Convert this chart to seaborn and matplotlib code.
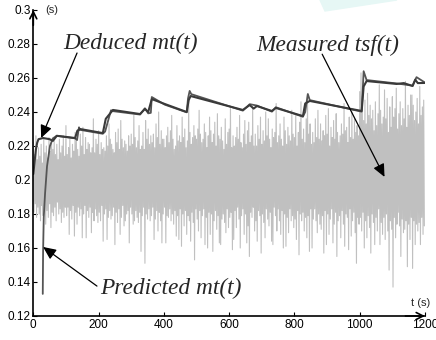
import numpy as np
import matplotlib
matplotlib.use("Agg")
import matplotlib.pyplot as plt
from matplotlib.patches import Polygon
import seaborn as sns

# measured tsf(t), one sample every 2 s, in ms
tsf_step = 2
tsf_ms = [
    222, 181, 215, 186, 226, 178, 212, 184, 219, 180,
    214, 176, 221, 185, 210, 179, 224, 183, 216, 174,
    220, 182, 213, 178, 225, 186, 217, 172, 222, 181,
    218, 179, 223, 184, 215, 176, 221, 187, 212, 180,
    224, 183, 216, 175, 220, 181, 226, 178, 214, 184,
    232, 179, 215, 184, 219, 168, 224, 182, 213, 177,
    221, 185, 217, 167, 228, 181, 223, 174, 218, 184,
    214, 179, 227, 183, 220, 166, 231, 180, 215, 185,
    225, 166, 218, 182, 222, 178, 221, 184, 216, 169,
    219, 181, 236, 176, 216, 183, 224, 179, 221, 175,
    229, 181, 215, 176, 222, 185, 218, 164, 219, 180,
    217, 183, 226, 165, 220, 178, 233, 182, 224, 177,
    221, 179, 218, 184, 216, 162, 228, 181, 222, 175,
    230, 183, 218, 168, 235, 178, 224, 185, 219, 173,
    223, 176, 221, 180, 217, 182, 226, 163, 220, 184,
    227, 180, 221, 174, 238, 176, 225, 182, 219, 178,
    223, 175, 232, 181, 218, 158, 220, 179, 228, 184,
    218, 151, 235, 180, 224, 177, 230, 183, 221, 176,
    226, 179, 222, 184, 227, 165, 219, 177, 233, 182,
    225, 170, 240, 181, 221, 176, 229, 163, 224, 180,
    224, 184, 219, 163, 226, 179, 231, 178, 222, 183,
    229, 176, 238, 180, 224, 174, 218, 182, 220, 167,
    232, 179, 223, 165, 226, 183, 222, 161, 237, 180,
    225, 173, 230, 182, 219, 168, 223, 179, 248, 176,
    228, 164, 221, 181, 225, 175, 232, 153, 226, 183,
    224, 177, 230, 170, 241, 182, 227, 166, 222, 179,
    224, 183, 233, 162, 228, 178, 219, 160, 226, 181,
    237, 168, 229, 180, 222, 158, 227, 176, 234, 182,
    220, 171, 239, 179, 226, 163, 224, 162, 231, 177,
    223, 180, 218, 175, 236, 169, 221, 183, 228, 172,
    230, 178, 242, 181, 219, 159, 226, 165, 220, 182,
    225, 172, 231, 184, 224, 177, 238, 160, 222, 179,
    219, 183, 227, 168, 235, 180, 221, 163, 229, 173,
    234, 155, 222, 181, 226, 178, 243, 184, 220, 170,
    227, 176, 220, 164, 232, 182, 224, 179, 237, 157,
    221, 180, 229, 175, 223, 166, 240, 183, 226, 177,
    236, 173, 224, 181, 219, 164, 230, 162, 225, 184,
    228, 179, 245, 170, 222, 183, 226, 176, 233, 168,
    224, 182, 220, 160, 237, 180, 229, 161, 221, 178,
    231, 169, 226, 183, 223, 176, 241, 179, 227, 172,
    225, 177, 239, 165, 220, 182, 228, 156, 234, 180,
    246, 176, 224, 181, 230, 170, 222, 178, 236, 166,
    250, 179, 227, 158, 233, 183, 221, 160, 228, 177,
    222, 183, 236, 176, 225, 169, 241, 180, 224, 174,
    233, 171, 223, 179, 229, 157, 226, 182, 238, 162,
    227, 180, 242, 168, 220, 177, 231, 183, 225, 163,
    235, 174, 224, 181, 239, 155, 228, 176, 222, 179,
    226, 166, 233, 182, 227, 174, 245, 161, 229, 180,
    231, 178, 222, 159, 237, 183, 225, 167, 240, 176,
    224, 181, 236, 169, 228, 151, 232, 178, 226, 174,
    252, 178, 263, 170, 240, 181, 235, 160, 247, 176,
    233, 166, 251, 179, 238, 172, 244, 157, 236, 180,
    241, 175, 229, 162, 246, 178, 232, 170, 239, 183,
    256, 162, 241, 175, 233, 168, 237, 178, 253, 165,
    236, 180, 248, 170, 228, 147, 243, 176, 231, 171,
    249, 137, 237, 178, 242, 166, 254, 174, 230, 181,
    239, 173, 246, 155, 232, 177, 242, 169, 236, 171,
    258, 176, 231, 149, 244, 174, 238, 165, 250, 178,
    250, 148, 244, 176, 235, 162, 240, 174, 248, 170,
    233, 175, 255, 162, 238, 178, 243, 168, 247, 173,
]

deduced_t = [0, 4, 8, 12, 16, 30, 50, 60, 72, 128, 135, 143, 213, 222, 244,
             327, 342, 352, 363, 403, 470, 476, 482, 642, 663, 675, 685, 731,
             743, 826, 833, 847, 1006, 1012, 1021, 1113, 1135, 1162, 1170,
             1178, 1200]
deduced_v = [0.2035, 0.211, 0.218, 0.222, 0.224, 0.2247, 0.224, 0.223, 0.226,
             0.2247, 0.229, 0.230, 0.2276, 0.236, 0.2412, 0.2388, 0.2418,
             0.240, 0.2476, 0.2447, 0.240, 0.247, 0.2494, 0.2412, 0.2441,
             0.242, 0.2435, 0.2406, 0.2424, 0.2376, 0.245, 0.2465, 0.2406,
             0.255, 0.2582, 0.2565, 0.257, 0.2553, 0.259, 0.257, 0.2571]

predicted_t = [29, 30, 32, 36, 42, 51, 60, 72, 128, 134, 140, 143, 213, 220,
               238, 244, 327, 342, 352, 360, 363, 403, 470, 474, 479, 484,
               642, 663, 685, 731, 743, 826, 833, 841, 847, 1006, 1010, 1012,
               1021, 1113, 1162, 1174, 1200]
predicted_v = [0.133, 0.158, 0.178, 0.192, 0.208, 0.220, 0.2245, 0.226,
               0.2245, 0.2235, 0.231, 0.2295, 0.2272, 0.2285, 0.241, 0.2405,
               0.2385, 0.2422, 0.2392, 0.2395, 0.2488, 0.2443, 0.2398, 0.248,
               0.2524, 0.2505, 0.2408, 0.2446, 0.2438, 0.2402, 0.2428, 0.2372,
               0.2400, 0.2506, 0.247, 0.2402, 0.256, 0.264, 0.2588, 0.2568,
               0.2555, 0.2605, 0.2573]

x_ticks = [0, 200, 400, 600, 800, 1000, 1200]
y_ticks = [0.12, 0.14, 0.16, 0.18, 0.2, 0.22, 0.24, 0.26, 0.28, 0.3]
y_tick_labels = ["0.12", "0.14", "0.16", "0.18", "0.2", "0.22", "0.24",
                 "0.26", "0.28", "0.3"]

sns.set_style("ticks")
plt.rcParams["font.family"] = ["Liberation Sans", "DejaVu Sans"]

fig = plt.figure(figsize=(4.36, 3.40), dpi=100)
ax = fig.add_axes([33.3 / 436, 1 - 316 / 340, 391.7 / 436, 306 / 340])

# faint watermark shape at the top
fig.patches.append(Polygon([(320 / 436, 1.0), (325 / 436, 1 - 11 / 340),
                            (397 / 436, 1.0)], closed=True,
                           transform=fig.transFigure, color="#e6f7f5",
                           zorder=0))

tsf_t = np.arange(len(tsf_ms)) * tsf_step
tsf = np.array(tsf_ms) / 1000.0
sns.lineplot(x=tsf_t, y=tsf, ax=ax, color="#c0c0c0", lw=0.8)
sns.lineplot(x=predicted_t, y=predicted_v, ax=ax, color="#555555", lw=1.3)
sns.lineplot(x=deduced_t, y=deduced_v, ax=ax, color="#3a3a3a", lw=1.5)

ax.set_xlim(0, 1200)
ax.set_ylim(0.12, 0.3)
ax.set_xticks(x_ticks)
ax.set_xticklabels([str(v) for v in x_ticks])
ax.set_yticks(y_ticks)
ax.set_yticklabels(y_tick_labels)
ax.tick_params(direction="in", length=3, width=0.8, labelsize=8.5, pad=2,
               colors="black")
ax.set_xlabel("")
ax.set_ylabel("")
for side in ["top", "right"]:
    ax.spines[side].set_visible(False)
for side in ["left", "bottom"]:
    ax.spines[side].set_linewidth(1.2)
    ax.spines[side].set_color("black")

# axis arrows
ax.annotate("", xy=(0, 1.0), xytext=(0, 0.95), xycoords="axes fraction",
            arrowprops=dict(arrowstyle="->,head_length=0.5,head_width=0.25",
                            lw=1.2, color="black", shrinkA=0, shrinkB=0),
            annotation_clip=False)
ax.annotate("", xy=(1.0, 0), xytext=(0.95, 0), xycoords="axes fraction",
            arrowprops=dict(arrowstyle="->,head_length=0.5,head_width=0.25",
                            lw=1.2, color="black", shrinkA=0, shrinkB=0),
            annotation_clip=False)
ax.text(0.03, 1.0, "(s)", transform=ax.transAxes, fontsize=8, va="center",
        ha="left")
ax.text(0.99, 0.042, "t (s)", transform=ax.transAxes, fontsize=8,
        va="center", ha="center")

label_font = dict(family="Liberation Serif", style="italic", fontsize=16.8)
arrow_kw = dict(arrowstyle="-|>,head_length=0.55,head_width=0.25",
                color="black", lw=0.9, mutation_scale=14, shrinkA=0, shrinkB=0)

ax.text(91, 0.277, "Deduced mt(t)", ha="left", va="baseline", **label_font)
ax.text(682, 0.2759, "Measured tsf(t)", ha="left", va="baseline", **label_font)
ax.text(204, 0.1329, "Predicted mt(t)", ha="left", va="baseline", **label_font)

ax.annotate("", xy=(24, 0.2247), xytext=(134, 0.2747), arrowprops=arrow_kw)
ax.annotate("", xy=(1076, 0.2018), xytext=(885, 0.274), arrowprops=arrow_kw)
ax.annotate("", xy=(30, 0.1606), xytext=(195, 0.1376), arrowprops=arrow_kw)

fig.savefig("out.png", dpi=100)
